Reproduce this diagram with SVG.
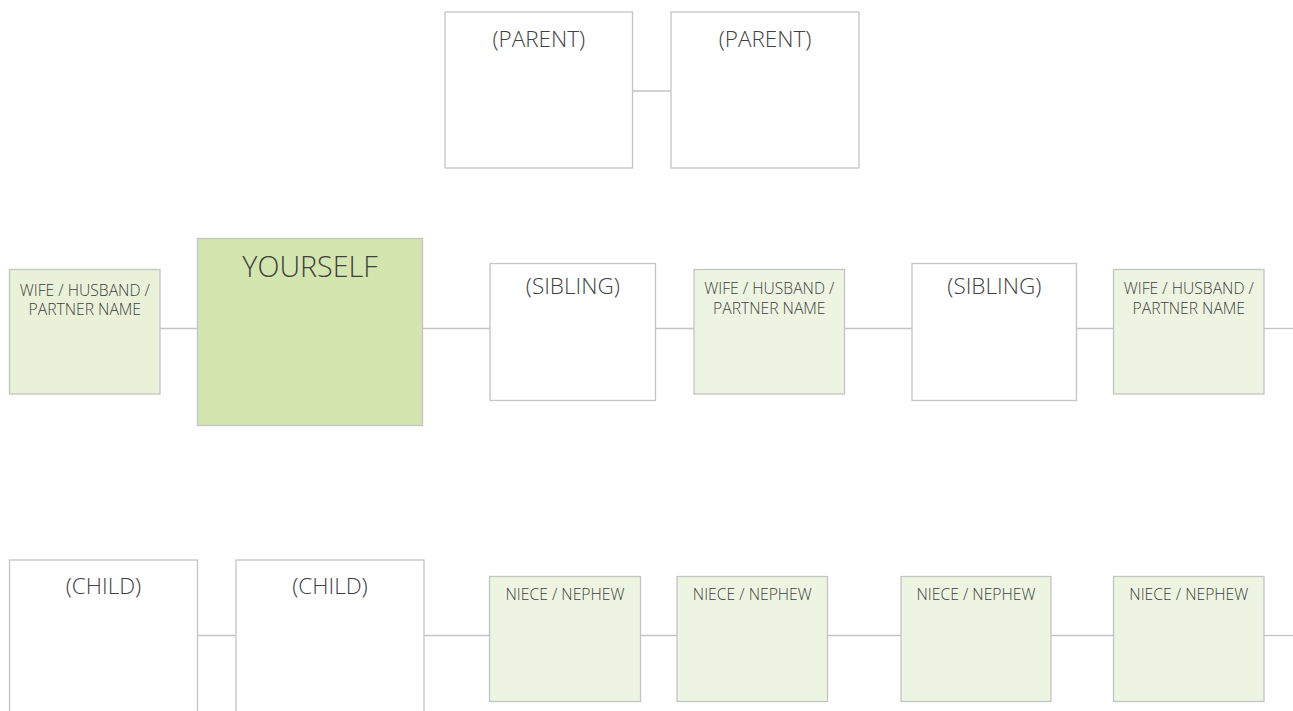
<svg xmlns="http://www.w3.org/2000/svg" width="1293" height="711" viewBox="0 0 1293 711">
<style>
.b{stroke:#c4c4c4;stroke-width:1.3}
.w{fill:#ffffff}
.g{fill:#edf5e2}
.g1{fill:#e9f1d9}
.y{fill:#d4e6af}
.c line{stroke:#c4c4c4;stroke-width:1.3}
text{font-family:"Open Sans","Liberation Sans",sans-serif;font-weight:300;fill:#404040;text-anchor:middle}
.L{font-size:22.5px}
.S{font-size:15.7px}
.X{font-size:28.7px}
</style>
<rect width="1293" height="711" fill="#fff"/>
<g class="c">
<line x1="632.5" y1="91" x2="671" y2="91"/>
<line x1="160" y1="328.5" x2="197.5" y2="328.5"/>
<line x1="422.5" y1="328.5" x2="490" y2="328.5"/>
<line x1="655.5" y1="328.5" x2="694" y2="328.5"/>
<line x1="844.5" y1="328.5" x2="912" y2="328.5"/>
<line x1="1076.5" y1="328.5" x2="1113.5" y2="328.5"/>
<line x1="1264" y1="328.5" x2="1293" y2="328.5"/>
<line x1="197.5" y1="635.5" x2="236" y2="635.5"/>
<line x1="424" y1="635.5" x2="489.5" y2="635.5"/>
<line x1="640.5" y1="635.5" x2="677" y2="635.5"/>
<line x1="827.5" y1="635.5" x2="901" y2="635.5"/>
<line x1="1051" y1="635.5" x2="1113.5" y2="635.5"/>
<line x1="1264" y1="635.5" x2="1293" y2="635.5"/>
</g>
<g id="parent1"><rect class="b w" x="445" y="12" width="187.5" height="156"/><text class="L" x="538.8" y="46.5">(PARENT)</text></g>
<g id="parent2"><rect class="b w" x="671" y="12" width="188" height="156"/><text class="L" x="765" y="46.5">(PARENT)</text></g>
<g id="partner0"><rect class="b g1" x="9.5" y="269.5" width="150.5" height="124.5"/><text class="S" x="84.8" y="295.5">WIFE / HUSBAND /</text><text class="S" x="84.8" y="314.5">PARTNER NAME</text></g>
<g id="yourself"><rect class="b y" x="197.5" y="238.5" width="225" height="187"/><text class="X" x="310" y="277">YOURSELF</text></g>
<g id="sibling1"><rect class="b w" x="490" y="263.5" width="165.5" height="137"/><text class="L" x="572.8" y="293.5">(SIBLING)</text></g>
<g id="partner1"><rect class="b g" x="694" y="269.5" width="150.5" height="124.5"/><text class="S" x="769.3" y="293.5">WIFE / HUSBAND /</text><text class="S" x="769.3" y="314">PARTNER NAME</text></g>
<g id="sibling2"><rect class="b w" x="912" y="263.5" width="164.5" height="137"/><text class="L" x="994.3" y="293.5">(SIBLING)</text></g>
<g id="partner2"><rect class="b g" x="1113.5" y="269.5" width="150.5" height="124.5"/><text class="S" x="1188.8" y="293.5">WIFE / HUSBAND /</text><text class="S" x="1188.8" y="314">PARTNER NAME</text></g>
<g id="child1"><rect class="b w" x="9.5" y="560" width="188" height="170"/><text class="L" x="103.5" y="594">(CHILD)</text></g>
<g id="child2"><rect class="b w" x="236" y="560" width="188" height="170"/><text class="L" x="330" y="594">(CHILD)</text></g>
<g id="niece1"><rect class="b g" x="489.5" y="576.5" width="151" height="125"/><text class="S" x="565" y="600">NIECE / NEPHEW</text></g>
<g id="niece2"><rect class="b g" x="677" y="576.5" width="150.5" height="125"/><text class="S" x="752.3" y="600">NIECE / NEPHEW</text></g>
<g id="niece3"><rect class="b g" x="901" y="576.5" width="150" height="125"/><text class="S" x="976" y="600">NIECE / NEPHEW</text></g>
<g id="niece4"><rect class="b g" x="1113.5" y="576.5" width="150.5" height="125"/><text class="S" x="1188.8" y="600">NIECE / NEPHEW</text></g>
</svg>
